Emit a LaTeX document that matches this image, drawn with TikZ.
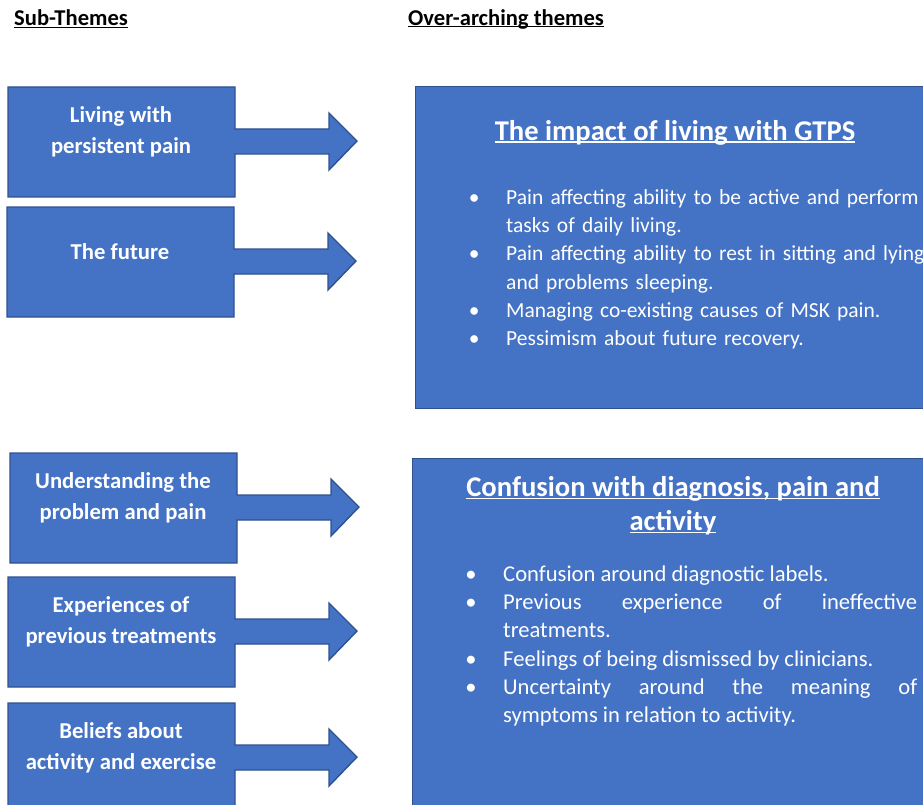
\documentclass[tikz,border=0pt]{standalone}
\usepackage{fontspec}
\setmainfont{Carlito}
\definecolor{boxblue}{HTML}{4472C4}
\definecolor{edgeblue}{HTML}{2F528F}
% underline at a fixed depth, through the descenders
\newcommand\undl[1]{\setbox0=\hbox{#1}\rlap{\rule[-0.09em]{\wd0}{0.06em}}\box0}
\newenvironment{themelist}{\begin{list}{\textbullet}{\setlength\leftmargin{32pt}\setlength\labelsep{26.5pt}%
    \setlength\labelwidth{14pt}\setlength\itemsep{0pt}\setlength\topsep{0pt}\setlength\parsep{0pt}%
    \setlength\partopsep{0pt}}}{\end{list}}
\tikzset{
  subarrow/.style={fill=boxblue, draw=edgeblue, line width=1.4pt, line join=miter},
  themebox/.style={fill=boxblue, draw=edgeblue, line width=1.4pt, rectangle, inner sep=0pt},
  sublabel/.style={text=white, align=center, font=\fontsize{22.7}{31.5}\selectfont\bfseries, inner sep=0pt},
  header/.style={anchor=west, font=\fontsize{22.6}{26}\selectfont\bfseries, inner sep=0pt},
  themetitle/.style={text=white, align=center, font=\fontsize{28.6}{34}\selectfont\bfseries, inner sep=0pt},
  bullets/.style={text=white, anchor=north west, inner sep=0pt, font=\fontsize{21.5}{28.2}\selectfont}
}
\begin{document}
\begin{tikzpicture}[x=1pt, y=-1pt]
    \useasboundingbox (0,0) rectangle (923,805);

    % column headers
    \node[header] (subhead) at (14,19) {\undl{Sub-Themes}};
    \node[header] (overhead) at (408,19) {\undl{Over-arching themes}};

    % sub-theme arrows
    \foreach \nm/\xa/\ya/\lbl in {living/8/87/{Living with\\persistent pain},
                                   future/7/207/{The future},
                                   understanding/10/453/{Understanding the\\problem and pain},
                                   experiences/8/577/{Experiences of\\previous treatments},
                                   beliefs/8/703/{Beliefs about\\activity and exercise}}{
        \draw[subarrow] (\xa,\ya) -- ({\xa+227},\ya) -- ({\xa+227},{\ya+42})
            -- ({\xa+321},{\ya+42}) -- ({\xa+321},{\ya+26}) -- ({\xa+349},{\ya+54})
            -- ({\xa+321},{\ya+83}) -- ({\xa+321},{\ya+67}) -- ({\xa+227},{\ya+67})
            -- ({\xa+227},{\ya+110}) -- (\xa,{\ya+110}) -- cycle;
        \node[sublabel] (\nm) at ({\xa+113},{\ya+45}) {\lbl};
    }

    % over-arching themes
    \node[themebox, anchor=north west, minimum width=520pt, minimum height=322pt] (impact) at (415,86) {};
    \node[themebox, anchor=north west, minimum width=520pt, minimum height=360pt] (confusion) at (412,458) {};

    \node[themetitle] (impacttitle) at (675,133) {\undl{The impact of living with GTPS}};
    \node[bullets, text width=452pt, align=left] (impactlist) at (474,176) {
        \begin{themelist}
            \item Pain affecting ability to be active and perform\newline tasks of daily living.
            \item Pain affecting ability to rest in sitting and lying\newline and problems sleeping.
            \item Managing co-existing causes of MSK pain.
            \item Pessimism about future recovery.
        \end{themelist}};

    \node[themetitle] (confusiontitle) at (673,506) {\undl{Confusion with diagnosis, pain and}\\\undl{activity}};
    \node[bullets, text width=446pt, align=justify, font=\fontsize{22.6}{28.2}\selectfont] (confusionlist) at (471,553) {
        \begin{themelist}
            \item Confusion around diagnostic labels.
            \item Previous experience of ineffective\linebreak treatments.
            \item Feelings of being dismissed by clinicians.
            \item Uncertainty around the meaning of\linebreak symptoms in relation to activity.
        \end{themelist}};
\end{tikzpicture}
\end{document}
